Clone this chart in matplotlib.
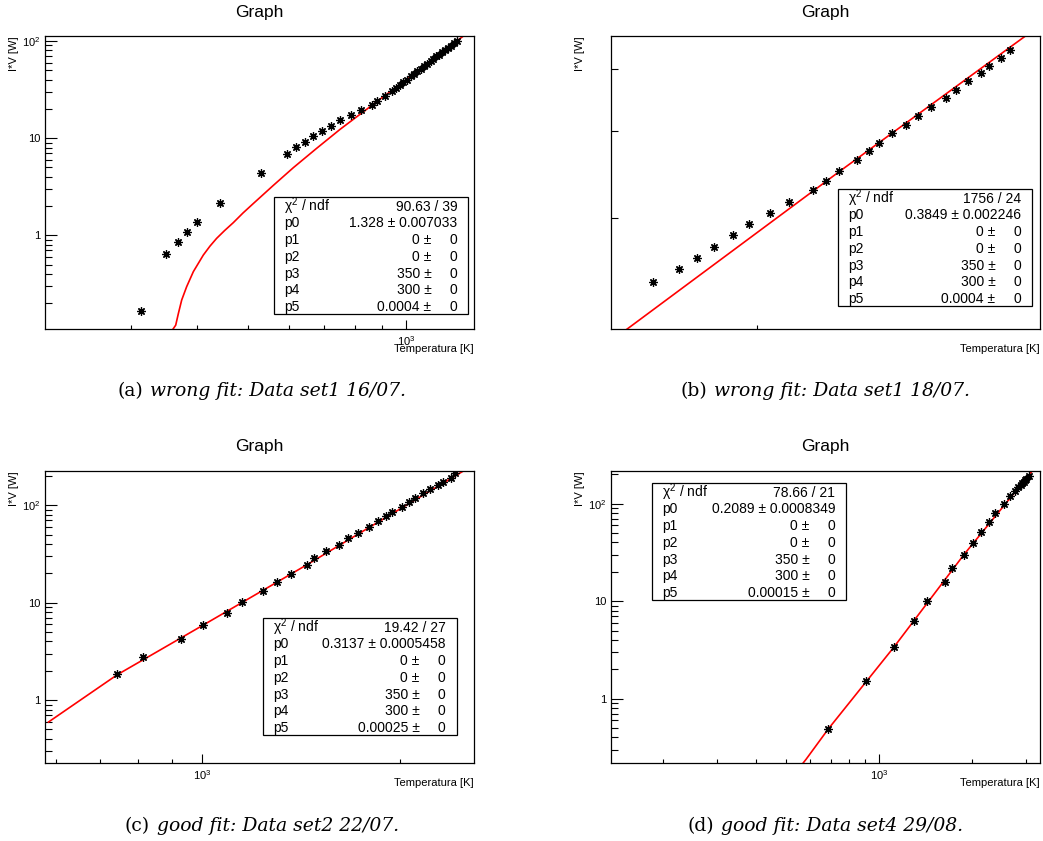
import matplotlib
matplotlib.use("Agg")
import numpy as np
import matplotlib.pyplot as plt
from matplotlib.ticker import FixedLocator, FixedFormatter, NullFormatter
from matplotlib.patches import Rectangle

plt.rcParams['font.family'] = ['Liberation Sans', 'DejaVu Sans']
plt.rcParams['mathtext.fontset'] = 'custom'
plt.rcParams['mathtext.rm'] = 'Liberation Sans'
plt.rcParams['mathtext.it'] = 'Liberation Sans:italic'

W, H = 1043, 841

# (a) data set1 16/07
temp_a = [313, 350, 368, 384, 400, 443, 529, 594, 619, 644, 667, 692, 720, 750,
          785, 820, 861, 881, 914, 939, 957, 974, 988, 1003, 1021, 1036, 1051,
          1066, 1082, 1098, 1114, 1127, 1143, 1157, 1172, 1188, 1202, 1216, 1234, 1252]
power_a = [0.166, 0.637, 0.847, 1.09, 1.37, 2.13, 4.42, 6.93, 8.05, 9.21, 10.5,
           11.9, 13.5, 15.3, 17.3, 19.6, 22.1, 24.1, 27.4, 30.3, 33.2, 35.4, 37.9,
           40.0, 43.3, 45.6, 48.8, 51.5, 55.2, 58.1, 62.3, 64.7, 69.3, 72.2, 76.9,
           80.6, 85.2, 88.8, 94.9, 100.3]
fit_temp_a = [359.6, 364.9, 369.2, 374.6, 382.8, 394.2, 411.8, 424.0, 436.5, 452.0,
              469.5, 490.0, 512.8, 559.6, 610.7, 676.3, 749.0, 829.9, 905.7, 1000,
              1127, 1276, 1304]
fit_power_a = [0.106, 0.119, 0.157, 0.216, 0.296, 0.423, 0.627, 0.775, 0.931, 1.12,
               1.35, 1.70, 2.13, 3.27, 4.97, 7.86, 12.3, 18.7, 26.7, 39.7,
               64.8, 109, 119]

# (b) data set1 18/07
temp_b = [1830, 1871, 1900, 1928, 1958, 1986, 2022, 2055, 2097, 2120, 2144, 2178,
          2201, 2219, 2244, 2270, 2294, 2319, 2350, 2370, 2395, 2420, 2437, 2462, 2482]
power_b = [14.85, 15.80, 16.65, 17.52, 18.51, 19.45, 20.53, 21.61, 22.82, 23.84,
           24.93, 26.20, 27.32, 28.44, 29.71, 30.93, 32.25, 33.63, 35.07, 36.40,
           37.90, 39.33, 40.70, 42.25, 43.78]
fit_temp_b = [1784, 2144, 2517]
fit_power_b = [11.80, 24.81, 46.88]

# (c) data set2 22/07
temp_c = [743, 814, 930, 1002, 1090, 1149, 1240, 1302, 1364, 1442, 1482, 1543, 1616,
          1665, 1729, 1797, 1854, 1906, 1945, 2012, 2067, 2111, 2170, 2225, 2285,
          2328, 2388, 2428]
power_c = [1.85, 2.80, 4.26, 5.92, 7.93, 10.1, 13.1, 16.4, 19.9, 24.4, 28.6, 33.8,
           39.5, 45.9, 52.5, 60.4, 69.1, 77.1, 86.1, 96.9, 109, 119, 133, 146, 160,
           173, 192, 213]
fit_temp_c = [584, 743, 1002, 1442, 2527]
fit_power_c = [0.595, 1.82, 5.84, 24.4, 236]

# (d) data set4 29/08
temp_d = [686, 908, 1121, 1298, 1433, 1632, 1727, 1884, 2019, 2143, 2275, 2380,
          2531, 2648, 2748, 2818, 2873, 2902, 2938, 2969, 2998, 3051]
power_d = [0.489, 1.51, 3.41, 6.21, 9.96, 15.6, 21.7, 30.0, 39.5, 51.6, 64.9, 80.2,
           100, 119, 136, 147, 157, 163, 168, 173, 179, 194]
fit_temp_d = [561, 582, 686, 1121, 1884, 3134, 3311]
fit_power_d = [0.207, 0.240, 0.489, 3.41, 30.0, 216, 272]

# fit results shown in the stat boxes
chi2_ndf = ['90.63 / 39', '1756 / 24', '19.42 / 27', '78.66 / 21']
p0_val = ['1.328', '0.3849', '0.3137', '0.2089']
p0_err = ['0.007033', '0.002246', '0.0005458', '0.0008349']
p1_val = ['0', '0', '0', '0']
p2_val = ['0', '0', '0', '0']
p3_val = ['350', '350', '350', '350']
p4_val = ['300', '300', '300', '300']
p5_val = ['0.0004', '0.0004', '0.00025', '0.00015']

caption_tag = ['(a)', '(b)', '(c)', '(d)']
caption_text = ['wrong fit: Data set1 16/07.', 'wrong fit: Data set1 18/07.',
                'good fit: Data set2 22/07.', 'good fit: Data set4 29/08.']

xlims = [(205.9, 1347), (1765, 2546), (577, 2592), (136, 3320)]
ylims = [(0.1087, 112.6), (11.95, 46.7), (0.226, 225), (0.219, 216)]

# layout in pixels: axes (left, top, right, bottom), stat box (left, top)
axes_px = [(45, 36, 474, 329), (611, 36, 1040, 329),
           (45, 471, 474, 763), (611, 471, 1040, 763)]
box_px = [(274.3, 197.3), (838.3, 189.3), (262.7, 618.3), (652.3, 483.3)]
box_w, box_h = 194, 117
caption_xy = [(262, 396), (825, 396), (262, 831), (825, 831)]


def fx(x):
    return x / W


def fy(y):
    return 1 - y / H


def log_minor(lo, hi):
    ticks = []
    for dec in range(-3, 5):
        for s in range(2, 10):
            v = s * 10.0 ** dec
            if lo <= v <= hi:
                ticks.append(v)
    return ticks


fig = plt.figure(figsize=(W / 100, H / 100), dpi=100)
renderer = fig.canvas.get_renderer()

data = [(temp_a, power_a, fit_temp_a, fit_power_a),
        (temp_b, power_b, fit_temp_b, fit_power_b),
        (temp_c, power_c, fit_temp_c, fit_power_c),
        (temp_d, power_d, fit_temp_d, fit_power_d)]

for i, (t, p, ft, fp) in enumerate(data):
    l, tp, r, b = axes_px[i]
    ax = fig.add_axes([fx(l), fy(b), (r - l) / W, (b - tp) / H])
    ax.set_xscale('log')
    ax.set_yscale('log')
    ax.plot(ft, fp, color='red', lw=1.2, zorder=2)
    ax.plot(t, p, ls='none', marker=(8, 2, 0), ms=6, mec='black', mew=0.9,
            color='black', zorder=3)
    ax.set_xlim(*xlims[i])
    ax.set_ylim(*ylims[i])
    for sp in ax.spines.values():
        sp.set_linewidth(0.9)

    if i == 1:
        # narrow range: only secondary ticks, no labels
        ax.xaxis.set_major_locator(FixedLocator([]))
        ax.yaxis.set_major_locator(FixedLocator([]))
        ax.xaxis.set_minor_locator(FixedLocator([2000]))
        ax.yaxis.set_minor_locator(FixedLocator([20, 30, 40]))
    else:
        ax.xaxis.set_major_locator(FixedLocator([1000]))
        ax.xaxis.set_major_formatter(FixedFormatter([r'$\mathregular{10^{3}}$']))
        ax.yaxis.set_major_locator(FixedLocator([1, 10, 100]))
        ax.yaxis.set_major_formatter(FixedFormatter(['1', '10', r'$\mathregular{10^{2}}$']))
        ax.xaxis.set_minor_locator(FixedLocator(log_minor(*xlims[i])))
        ax.yaxis.set_minor_locator(FixedLocator(log_minor(*ylims[i])))
    ax.xaxis.set_minor_formatter(NullFormatter())
    ax.yaxis.set_minor_formatter(NullFormatter())
    ax.tick_params(which='both', direction='in', top=False, right=False,
                   width=0.8, labelsize=8)
    ax.tick_params(axis='y', which='major', length=8.6, pad=3.6)
    ax.tick_params(axis='y', which='minor', length=5)
    ax.tick_params(axis='x', which='major', length=6.5, pad=4)
    ax.tick_params(axis='x', which='minor', length=3.2)

    cx = 259 if l < 500 else 825
    fig.text(fx(cx), fy(tp - 24), 'Graph', ha='center', va='center', fontsize=12.5)
    fig.text(fx(l - 31), fy(tp), 'I*V [W]', rotation=90, ha='center', va='top',
             fontsize=8)
    fig.text(fx(r), fy(b + 20), 'Temperatura [K]', ha='right', va='center',
             fontsize=8)

    # stat box
    bl, bt = box_px[i]
    br = bl + box_w
    fig.add_artist(Rectangle((fx(bl), fy(bt + box_h)), box_w / W, box_h / H,
                             transform=fig.transFigure, facecolor='white',
                             edgecolor='black', lw=0.9, zorder=4))
    rows = [('\u03c7$^{2}$ / ndf', chi2_ndf[i], None),
            ('p0', p0_val[i], p0_err[i]),
            ('p1', p1_val[i], '0'),
            ('p2', p2_val[i], '0'),
            ('p3', p3_val[i], '0'),
            ('p4', p4_val[i], '0'),
            ('p5', p5_val[i], '0')]
    for k, (name, val, err) in enumerate(rows):
        yb = bt + (k + 0.5) * box_h / 7 + 5
        kw = dict(va='baseline', fontsize=10, zorder=5)
        fig.text(fx(bl + 10), fy(yb), name, ha='left', **kw)
        if err is None:
            fig.text(fx(br - 11), fy(yb), val, ha='right', **kw)
        elif len(err) > 1:
            fig.text(fx(br - 11), fy(yb), f'{val} \u00b1 {err}', ha='right', **kw)
        else:
            fig.text(fx(br - 37), fy(yb), f'{val} \u00b1', ha='right', **kw)
            fig.text(fx(br - 11), fy(yb), err, ha='right', **kw)

    # caption under the panel: upright tag, italic text, centred together
    cxp, cyp = caption_xy[i]
    ckw = dict(va='baseline', fontsize=13.5, family='DejaVu Serif')
    t1 = fig.text(0, fy(cyp), caption_tag[i], **ckw)
    t2 = fig.text(0, fy(cyp), caption_text[i], style='italic', **ckw)
    w1 = t1.get_window_extent(renderer).width
    w2 = t2.get_window_extent(renderer).width
    gap = 7
    x0 = cxp - (w1 + gap + w2) / 2
    t1.set_x(fx(x0))
    t2.set_x(fx(x0 + w1 + gap))

fig.savefig('out.png', dpi=100)
